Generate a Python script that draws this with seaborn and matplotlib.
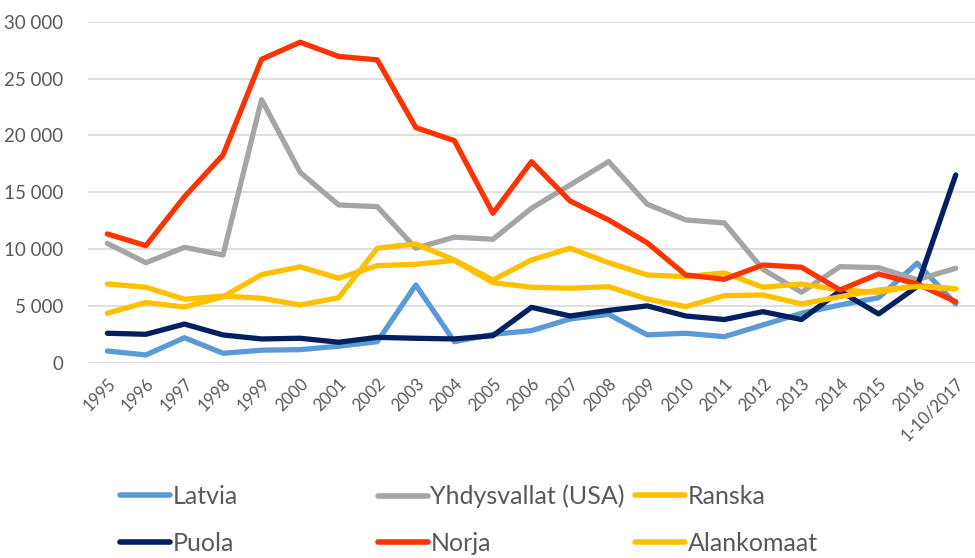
import numpy as np
import pandas as pd
import matplotlib
matplotlib.use('Agg')
import matplotlib.pyplot as plt
from matplotlib.lines import Line2D
from matplotlib.ticker import FuncFormatter
import seaborn as sns

# Vuodet (x-akselin kategoriat)
vuodet = ['1995', '1996', '1997', '1998', '1999', '2000', '2001', '2002', '2003',
          '2004', '2005', '2006', '2007', '2008', '2009', '2010', '2011', '2012',
          '2013', '2014', '2015', '2016', '1-10/2017']

latvia = [1030, 680, 2200, 830, 1100, 1150, 1450, 1850, 6840, 1850, 2500, 2820,
          3850, 4250, 2450, 2590, 2290, 3320, 4350, 5080, 5720, 8750, 5170]
usa = [10500, 8800, 10150, 9480, 23150, 16750, 13880, 13730, 10070, 11050, 10860,
       13590, 15640, 17700, 13950, 12560, 12300, 8220, 6200, 8450, 8360, 7300, 8310]
ranska = [6930, 6640, 5580, 5870, 5670, 5080, 5720, 10070, 10450, 9040, 7280,
          9040, 10070, 8800, 7720, 7570, 7900, 6640, 6930, 6400, 6200, 6800, 6500]
puola = [2590, 2500, 3400, 2440, 2090, 2150, 1800, 2230, 2150, 2090, 2380, 4870,
         4110, 4600, 5000, 4110, 3800, 4490, 3800, 6300, 4290, 6700, 16520]
norja = [11330, 10300, 14600, 18280, 26700, 28200, 26950, 26650, 20690, 19540,
         13150, 17690, 14230, 12560, 10550, 7720, 7340, 8600, 8400, 6400, 7810,
         6930, 5370]
alankomaat = [4350, 5300, 4900, 5800, 7750, 8440, 7430, 8540, 8660, 9000, 7040,
              6640, 6550, 6690, 5600, 4930, 5900, 5960, 5170, 5810, 6400, 6700, 6500]

# Piirtojärjestys kuten alkuperäisessä
sarjat = {
    'Latvia': latvia,
    'Yhdysvallat (USA)': usa,
    'Ranska': ranska,
    'Puola': puola,
    'Norja': norja,
    'Alankomaat': alankomaat,
}
varit = {
    'Latvia': '#5B9BD5',
    'Yhdysvallat (USA)': '#A5A5A5',
    'Ranska': '#FFC000',
    'Puola': '#002060',
    'Norja': '#FF3300',
    'Alankomaat': '#FFC000',
}

df = pd.DataFrame([
    {'Vuosi': v, 'Maa': maa, 'Arvo': arvo}
    for maa, arvot in sarjat.items()
    for v, arvo in zip(vuodet, arvot)
])

sns.set_style('white')
plt.rcParams['font.family'] = ['Lato', 'DejaVu Sans']
tekstivari = '#595959'

fig = plt.figure(figsize=(9.75, 5.58), dpi=100)
ax = fig.add_axes([0.0903, 0.350, 0.9097, 0.611])

sns.lineplot(data=df, x='Vuosi', y='Arvo', hue='Maa', palette=varit,
             hue_order=list(sarjat.keys()), estimator=None, sort=False,
             linewidth=3.8, legend=False, ax=ax,
             solid_capstyle='round', solid_joinstyle='round')

ax.set_ylim(0, 30000)
ax.set_yticks(np.arange(0, 30001, 5000))
ax.yaxis.set_major_formatter(FuncFormatter(lambda v, p: f'{v:,.0f}'.replace(',', ' ')))
ax.set_xlim(-0.5, len(vuodet) - 0.5)
ax.grid(axis='y', color='#D9D9D9', linewidth=1.2)
ax.grid(axis='x', visible=False)
ax.set_axisbelow(True)
for s in ax.spines.values():
    s.set_visible(False)
ax.set_xlabel('')
ax.set_ylabel('')
ax.tick_params(axis='y', length=0, pad=18, labelsize=13.5, labelcolor=tekstivari)
ax.tick_params(axis='x', length=0, pad=9, labelsize=12, labelcolor=tekstivari)
for lab in ax.get_xticklabels():
    lab.set_rotation(45)
    lab.set_ha('right')
    lab.set_rotation_mode('anchor')

# Selite: kolme saraketta, kaksi riviä
sarakkeet = [['Latvia', 'Puola'], ['Yhdysvallat (USA)', 'Norja'], ['Ranska', 'Alankomaat']]
x_paikat = [120 / 975, 378 / 975, 635 / 975]
for nimet, xp in zip(sarakkeet, x_paikat):
    kahvat = [Line2D([0], [0], color=varit[n], linewidth=4, solid_capstyle='round') for n in nimet]
    fig.legend(kahvat, nimet, loc='upper left', bbox_to_anchor=(xp, 0.131),
               frameon=False, labelcolor=tekstivari,
               prop={'family': ['Lato', 'DejaVu Sans'], 'size': 18},
               handlelength=2.0, handletextpad=0.1, labelspacing=0.95,
               borderpad=0, borderaxespad=0)

plt.savefig('out.png', dpi=100)
